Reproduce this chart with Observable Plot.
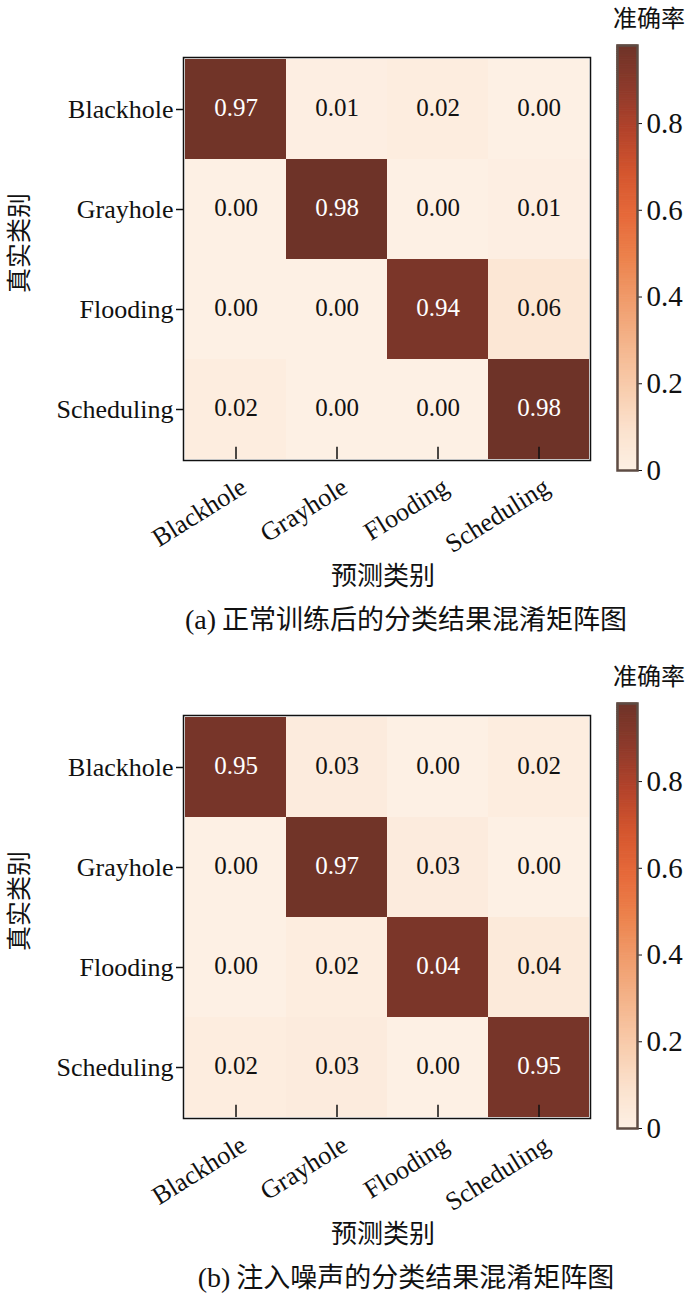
<!DOCTYPE html>
<html>
<head>
<meta charset="utf-8">
<script src="https://cdn.jsdelivr.net/npm/d3@7"></script>
<script src="https://cdn.jsdelivr.net/npm/@observablehq/plot@0.6"></script>
<style>
  body { margin: 0; background: #fff; }
  #root { position: relative; width: 700px; height: 1294px; overflow: hidden; }
  .panel { position: absolute; left: 0; width: 700px; height: 658px; }
  .abs { position: absolute; white-space: nowrap; color: #111; }
  .cjk { font-family: "Noto Sans CJK SC", sans-serif; }
  .serif { font-family: "Liberation Serif", serif; }
</style>
</head>
<body>
<div id="root"></div>
<script>
// ---------- data ----------
const categories = ["Blackhole", "Grayhole", "Flooding", "Scheduling"];

// rows = true class, columns = predicted class
const valuesA = [
  [0.97, 0.01, 0.02, 0.00],
  [0.00, 0.98, 0.00, 0.01],
  [0.00, 0.00, 0.94, 0.06],
  [0.02, 0.00, 0.00, 0.98]
];
const labelsA = [
  ["0.97", "0.01", "0.02", "0.00"],
  ["0.00", "0.98", "0.00", "0.01"],
  ["0.00", "0.00", "0.94", "0.06"],
  ["0.02", "0.00", "0.00", "0.98"]
];
const valuesB = [
  [0.95, 0.03, 0.00, 0.02],
  [0.00, 0.97, 0.03, 0.00],
  [0.00, 0.02, 0.94, 0.04],
  [0.02, 0.03, 0.00, 0.95]
];
const labelsB = [
  ["0.95", "0.03", "0.00", "0.02"],
  ["0.00", "0.97", "0.03", "0.00"],
  ["0.00", "0.02", "0.04", "0.04"],
  ["0.02", "0.03", "0.00", "0.95"]
];
const colorbarTicks = [0, 0.2, 0.4, 0.6, 0.8];
const colorMax = 0.98;
const colorStops = ["#fdf0e4", "#fbe1cc", "#f8cbab", "#f4b48b", "#f09c6c", "#ec824c",
                    "#e6693a", "#d4552e", "#b3432b", "#8d3a2b", "#6e3328"];

const xLabel = "预测类别";
const yLabel = "真实类别";
const colorTitle = "准确率";
const captions = ["(a) 正常训练后的分类结果混淆矩阵图", "(b) 注入噪声的分类结果混淆矩阵图"];

// ---------- drawing ----------
const colorScale = {
  type: "linear",
  domain: [0, colorMax],
  interpolate: () => d3.piecewise(d3.interpolateRgb, colorStops)
};
const font = "'Liberation Serif', 'Times New Roman', serif";

function toTable(values, labels) {
  const rows = [];
  categories.forEach((t, i) => categories.forEach((p, j) => {
    rows.push({truth: t, pred: p, value: values[i][j], label: labels[i][j]});
  }));
  return rows;
}

function heatmap(values, labels) {
  const data = toTable(values, labels);
  const W = 600, H = 560, mt = 57, mb = 100;
  const band = (H - mt - mb) / categories.length;
  return Plot.plot({
    width: W, height: H,
    marginLeft: 183, marginRight: 10, marginTop: mt, marginBottom: mb,
    style: {fontFamily: font, fontSize: "26px", color: "#111", background: "transparent"},
    x: {domain: categories, padding: 0, label: null},
    y: {domain: categories, padding: 0, label: null},
    color: colorScale,
    marks: [
      Plot.cell(data, {x: "pred", y: "truth", fill: "value"}),
      Plot.text(data, {x: "pred", y: "truth", text: "label", fontSize: 25, dy: -2,
        fill: d => d.value > 0.5 ? "#ffffff" : "#111111"}),
      Plot.tickX(categories, {x: d => d, y: () => categories[categories.length - 1],
        insetTop: band - 13, stroke: "#111", strokeWidth: 1.5}),
      Plot.axisY({tickSize: 7, tickPadding: 3, fontSize: 26, label: null, strokeWidth: 1.5}),
      Plot.axisX({tickSize: 0, tickPadding: 24, tickRotate: -32, fontSize: 26, label: null, dx: 8}),
      Plot.frame({stroke: "#111", strokeWidth: 1.5})
    ]
  });
}

function colorbar() {
  const n = 200;
  const step = colorMax / n;
  const strips = d3.range(0, n).map(i => i * step);
  return Plot.plot({
    width: 100, height: 500,
    marginLeft: 17, marginRight: 63, marginTop: 45, marginBottom: 30,
    style: {fontFamily: font, fontSize: "29px", color: "#111", background: "transparent"},
    y: {domain: [0, colorMax], label: null},
    color: colorScale,
    marks: [
      Plot.rect(strips, {y1: d => d, y2: d => Math.min(colorMax, d + step),
        fill: d => d + step / 2, stroke: d => d + step / 2, strokeWidth: 1}),
      Plot.axisY({anchor: "right", ticks: colorbarTicks, tickSize: 4, tickPadding: 5,
        tickFormat: d => d === 0 ? "0" : d.toFixed(1), label: null, fontSize: 29}),
      Plot.frame({stroke: "#5e4c44", strokeWidth: 2.5})
    ]
  });
}

const root = document.getElementById("root");
const panels = [[valuesA, labelsA], [valuesB, labelsB]];
panels.forEach(([vals, labs], k) => {
  const p = document.createElement("div");
  p.className = "panel";
  p.style.top = (k * 658) + "px";

  const hm = heatmap(vals, labs);
  hm.style.position = "absolute"; hm.style.left = "0px"; hm.style.top = "0px";
  p.appendChild(hm);

  const cb = colorbar();
  cb.style.position = "absolute"; cb.style.left = "600px"; cb.style.top = "0px";
  p.appendChild(cb);

  const t = document.createElement("div");
  t.className = "abs cjk"; t.textContent = colorTitle;
  Object.assign(t.style, {left: "613px", top: "0px", fontSize: "24px", lineHeight: "34px"});
  p.appendChild(t);

  const xl = document.createElement("div");
  xl.className = "abs cjk"; xl.textContent = xLabel;
  Object.assign(xl.style, {left: "383px", top: "556px", fontSize: "26px", lineHeight: "36px",
    transform: "translateX(-50%)"});
  p.appendChild(xl);

  const yl = document.createElement("div");
  yl.className = "abs cjk"; yl.textContent = yLabel;
  Object.assign(yl.style, {left: "17px", top: "243px", fontSize: "25px", lineHeight: "30px",
    transform: "translate(-50%, -50%) rotate(-90deg)"});
  p.appendChild(yl);

  const cap = document.createElement("div");
  cap.className = "abs";
  cap.innerHTML = `<span class="serif" style="font-size:28px">${captions[k].slice(0, 3)}</span><span class="cjk" style="font-size:27px">${captions[k].slice(3)}</span>`;
  Object.assign(cap.style, {left: "406px", top: "602px", lineHeight: "32px",
    transform: "translateX(-50%)"});
  p.appendChild(cap);

  root.appendChild(p);
});
</script>
</body>
</html>
